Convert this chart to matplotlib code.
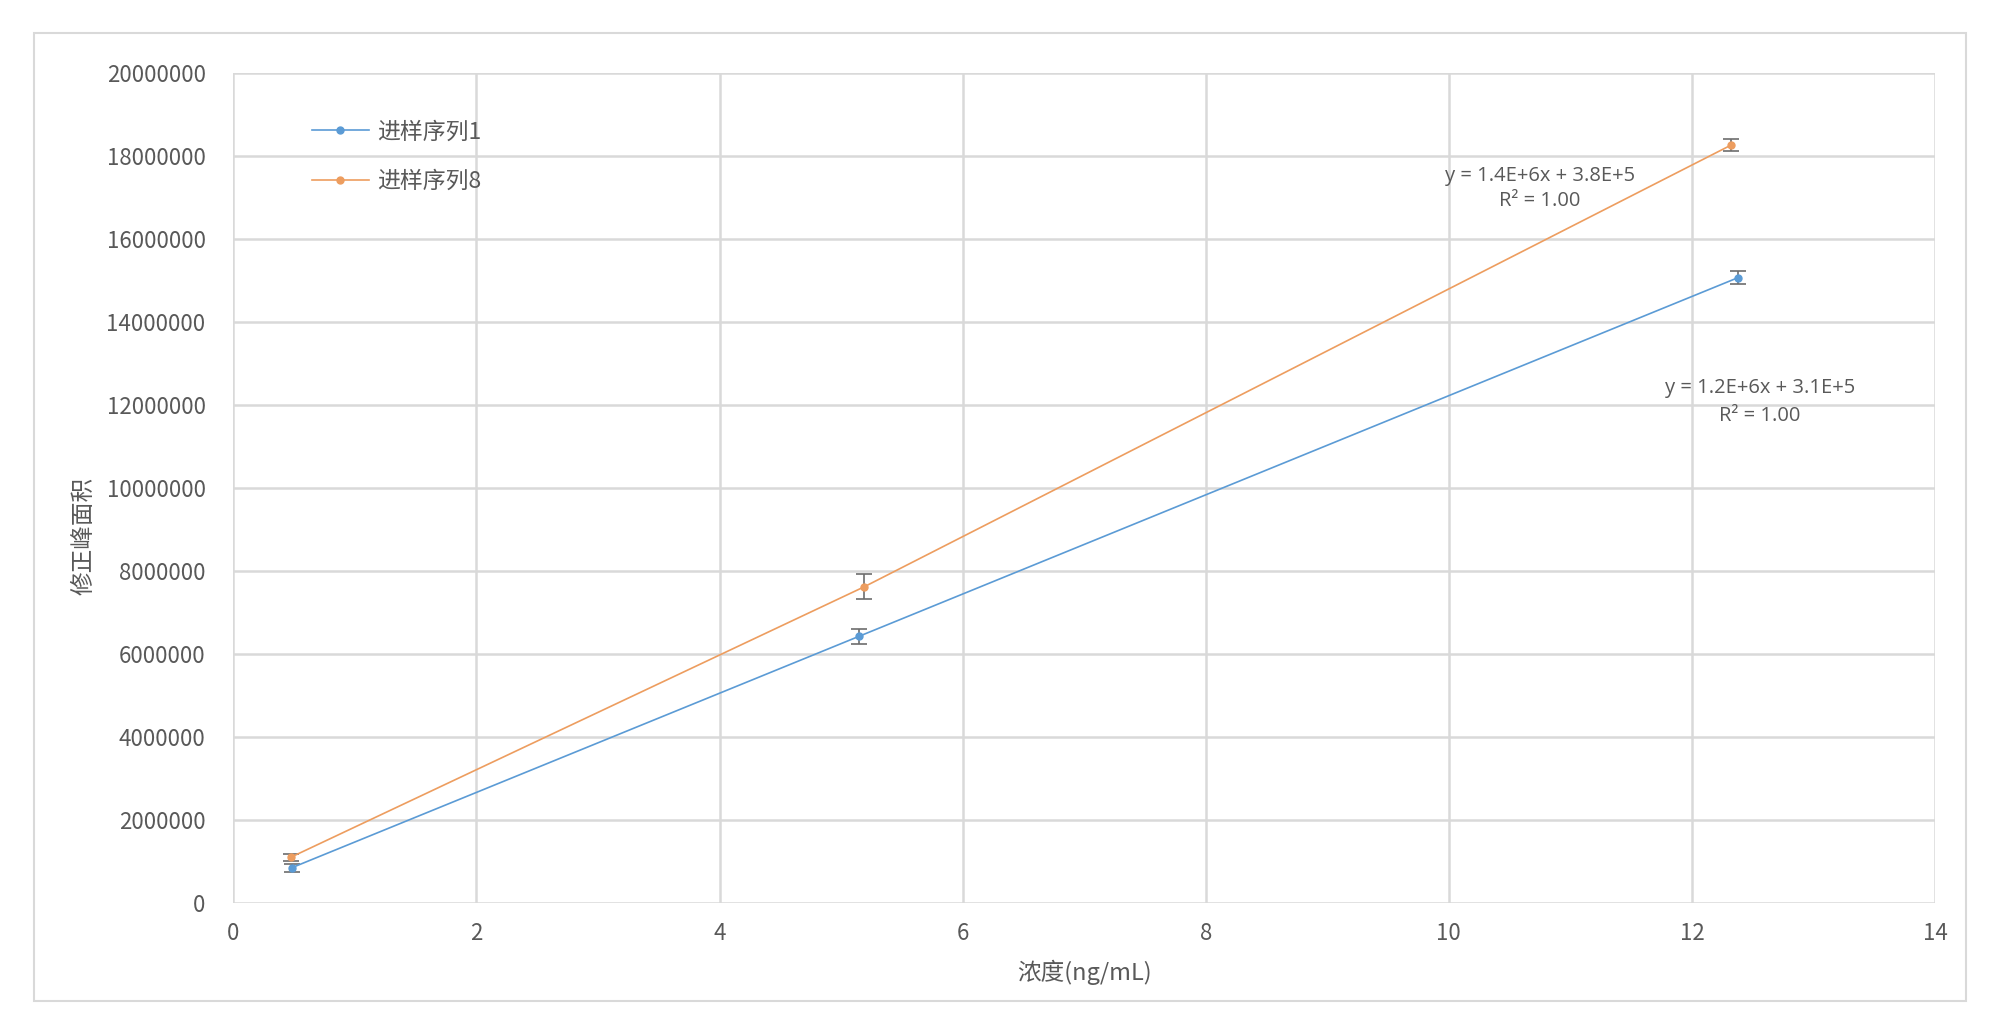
import matplotlib
matplotlib.use("Agg")
import matplotlib.pyplot as plt
from matplotlib.patches import Rectangle
from matplotlib.lines import Line2D

plt.rcParams['font.family'] = ['Noto Sans CJK SC', 'DejaVu Sans']

# data
x1 = [0.48, 5.15, 12.38]
y1 = [850000, 6430000, 15070000]
e1 = [90000, 180000, 160000]

x8 = [0.47, 5.19, 12.32]
y8 = [1100000, 7620000, 18260000]
e8 = [90000, 300000, 150000]

names = ['进样序列1', '进样序列8']
eq1 = ['y = 1.2E+6x + 3.1E+5', 'R² = 1.00']
eq8 = ['y = 1.4E+6x + 3.8E+5', 'R² = 1.00']

xticks = [0, 2, 4, 6, 8, 10, 12, 14]
yticks = [0, 2000000, 4000000, 6000000, 8000000, 10000000,
          12000000, 14000000, 16000000, 18000000, 20000000]

blue = '#5B9BD5'
orange = '#ED9D5F'
grid = '#D9D9D9'
txt = '#595959'

fig = plt.figure(figsize=(20, 10.27), dpi=100)
fig.patches.append(Rectangle((0.017, 0.025), 0.966, 0.943, transform=fig.transFigure,
                             fill=False, edgecolor=grid, linewidth=1.5))
ax = fig.add_axes([0.1167, 0.1207, 0.8508, 0.8082])

ax.errorbar(x1, y1, yerr=e1, color=blue, lw=1.2, marker='o', ms=5,
            ecolor='#6d6d6d', elinewidth=1.2, capsize=6, capthick=1.2, zorder=3)
ax.errorbar(x8, y8, yerr=e8, color=orange, lw=1.2, marker='o', ms=5,
            ecolor='#6d6d6d', elinewidth=1.2, capsize=6, capthick=1.2, zorder=3)

ax.set_xlim(0, 14)
ax.set_ylim(0, 20000000)
ax.set_xticks(xticks)
ax.set_yticks(yticks)
ax.set_xticklabels([str(v) for v in xticks])
ax.set_yticklabels([str(v) for v in yticks])
ax.tick_params(axis='y', length=0, labelsize=16, labelcolor=txt, pad=20)
ax.tick_params(axis='x', length=0, labelsize=16, labelcolor=txt, pad=14)
ax.grid(True, color=grid, linewidth=1.8, zorder=0)
ax.set_axisbelow(True)
for s in ax.spines.values():
    s.set_visible(False)

ax.set_xlabel('浓度(ng/mL)', fontsize=17, color=txt, labelpad=10)
ax.set_ylabel('修正峰面积', fontsize=17, color=txt)
ax.yaxis.set_label_coords(-0.081, 0.442)

for x, y, s in [(10.75, 17520000, eq8[0]), (10.75, 16920000, eq8[1]),
                (12.56, 12410000, eq1[0]), (12.56, 11730000, eq1[1])]:
    ax.text(x, y, s, ha='center', va='center', fontsize=14.5, color=txt,
            family=['Open Sans', 'DejaVu Sans'])

handles = [Line2D([], [], color=blue, lw=1.2, marker='o', ms=5),
           Line2D([], [], color=orange, lw=1.2, marker='o', ms=5)]
ax.legend(handles, names, loc='upper left', bbox_to_anchor=(0.046, 0.943), frameon=False,
          fontsize=16.5, labelcolor=txt, handlelength=2.5, handletextpad=0.35,
          labelspacing=1.17, borderpad=0, borderaxespad=0)

fig.savefig('out.png', dpi=100, facecolor='white')
